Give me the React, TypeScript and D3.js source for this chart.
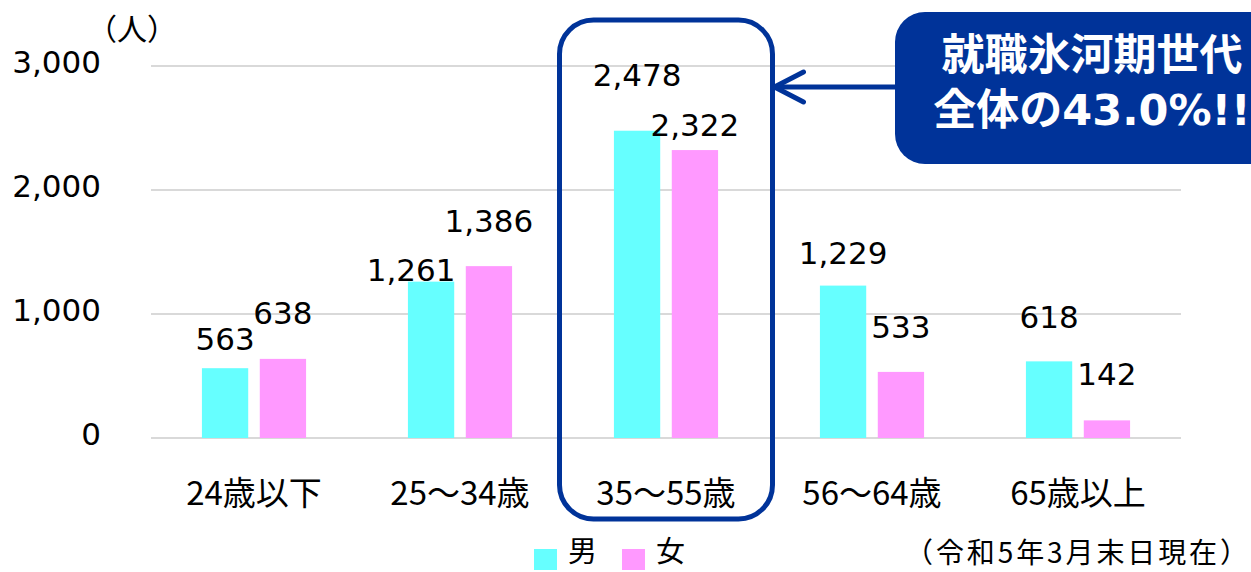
import React from "react";
import * as d3 from "d3";

const categories = ["24歳以下", "25～34歳", "35～55歳", "56～64歳", "65歳以上"];
const series = ["男", "女"];
const maleValues = [563, 1261, 2478, 1229, 618];
const femaleValues = [638, 1386, 2322, 533, 142];
const yTicks = [0, 1000, 2000, 3000];

// label nudges relative to bar top (dx, dy of baseline) – the source chart has hand-placed labels
const maleNudge: [number, number][] = [[0, -18], [-20, -1], [0, -45], [0, -22], [0, -33]];
const femaleNudge: [number, number][] = [[0, -35], [0, -34], [0, -14], [0, -34], [0, -35]];

const highlightIndex = 2;
const calloutLines = ["就職氷河期世代", "全体の43.0%!!"];
const unitLabel = "（人）";
const noteLabel = "（令和5年3月末日現在）";

const W = 1251;
const H = 572;
const colors: Record<string, string> = { 男: "#66FFFF", 女: "#FF99FF" };
const navy = "#003399";
const numFont = "'DejaVu Sans', Verdana, sans-serif";
const jpFont = "'Noto Sans CJK JP', 'Noto Sans', sans-serif";

const App: React.FC = () => {
  const x0 = d3.scaleBand<string>().domain(categories).range([151, 1181]);
  const x1 = d3
    .scaleBand<string>()
    .domain(series)
    .range([0, x0.bandwidth()])
    .paddingInner(0.2)
    .paddingOuter(0.88);
  const y = d3.scaleLinear().domain([0, 3000]).range([438, 66]);
  const fmt = d3.format(",");

  const values: Record<string, number[]> = { 男: maleValues, 女: femaleValues };
  const nudges: Record<string, [number, number][]> = { 男: maleNudge, 女: femaleNudge };

  const hx = (x0(categories[highlightIndex]) ?? 0) - 3.5;
  const hw = x0.bandwidth() + 7;
  const hr = 34;
  const arrowY = 87;
  const boxX = 895;

  return (
    <div style={{ position: "absolute", left: 0, top: 0 }}>
      <svg width={W} height={H} style={{ display: "block", background: "#fff" }}>
        {/* グリッド線 */}
        {yTicks.map((t) => (
          <line key={t} x1={151} x2={1181} y1={y(t)} y2={y(t)} stroke="#d9d9d9" strokeWidth={2} />
        ))}
        {/* 目盛りラベル */}
        {yTicks.map((t) => (
          <text
            key={"t" + t}
            x={101}
            y={y(t) + 7}
            textAnchor="end"
            fontFamily={numFont}
            fontSize={31}
            fill="#000"
          >
            {fmt(t)}
          </text>
        ))}
        <text x={87} y={40} fontFamily={jpFont} fontSize={30} fill="#000">
          {unitLabel}
        </text>

        {/* 棒 */}
        {categories.map((c, i) =>
          series.map((s) => {
            const v = values[s][i];
            const bx = (x0(c) ?? 0) + (x1(s) ?? 0);
            return (
              <rect
                key={c + s}
                x={bx}
                y={y(v)}
                width={x1.bandwidth()}
                height={y(0) - y(v)}
                fill={colors[s]}
              />
            );
          })
        )}
        {/* 値ラベル */}
        {categories.map((c, i) =>
          series.map((s) => {
            const v = values[s][i];
            const [dx, dy] = nudges[s][i];
            const cx = (x0(c) ?? 0) + (x1(s) ?? 0) + x1.bandwidth() / 2;
            return (
              <text
                key={"l" + c + s}
                x={cx + dx}
                y={y(v) + dy}
                textAnchor="middle"
                fontFamily={numFont}
                fontSize={31}
                fill="#000"
              >
                {fmt(v)}
              </text>
            );
          })
        )}
        {/* カテゴリラベル */}
        {categories.map((c) => (
          <text
            key={"c" + c}
            x={(x0(c) ?? 0) + x0.bandwidth() / 2}
            y={505}
            textAnchor="middle"
            fontFamily={jpFont}
            fontSize={33}
            fill="#000"
          >
            {c}
          </text>
        ))}

        {/* 強調枠 */}
        <rect x={hx} y={20} width={hw} height={499} rx={hr} ry={hr} fill="none" stroke={navy} strokeWidth={5} />

        {/* 矢印 */}
        <line x1={boxX} x2={hx + hw + 2} y1={arrowY} y2={arrowY} stroke={navy} strokeWidth={5} />
        <path
          d={`M${hx + hw + 31},${arrowY - 15}L${hx + hw + 2},${arrowY}L${hx + hw + 31},${arrowY + 15}`}
          fill="none"
          stroke={navy}
          strokeWidth={5}
          strokeLinecap="round"
          strokeLinejoin="round"
        />

        {/* 吹き出し */}
        <rect x={boxX} y={12} width={420} height={152} rx={30} ry={30} fill={navy} />
        {calloutLines.map((t, i) => (
          <text
            key={"co" + i}
            x={1092}
            y={70 + i * 55}
            textAnchor="middle"
            fontFamily={`'DejaVu Sans', ${jpFont}`}
            fontWeight="bold"
            fontSize={43}
            fill="#fff"
          >
            {t}
          </text>
        ))}

        {/* 凡例 */}
        {series.map((s, i) => (
          <g key={"lg" + s} transform={`translate(${534 + i * 88},0)`}>
            <rect x={0} y={549} width={23} height={21} fill={colors[s]} />
            <text x={34} y={562} fontFamily={jpFont} fontSize={29} fill="#000">
              {s}
            </text>
          </g>
        ))}
        <text x={905} y={563} fontFamily={jpFont} fontSize={28} textLength={343} fill="#000">
          {noteLabel}
        </text>
      </svg>
    </div>
  );
};

export default App;
